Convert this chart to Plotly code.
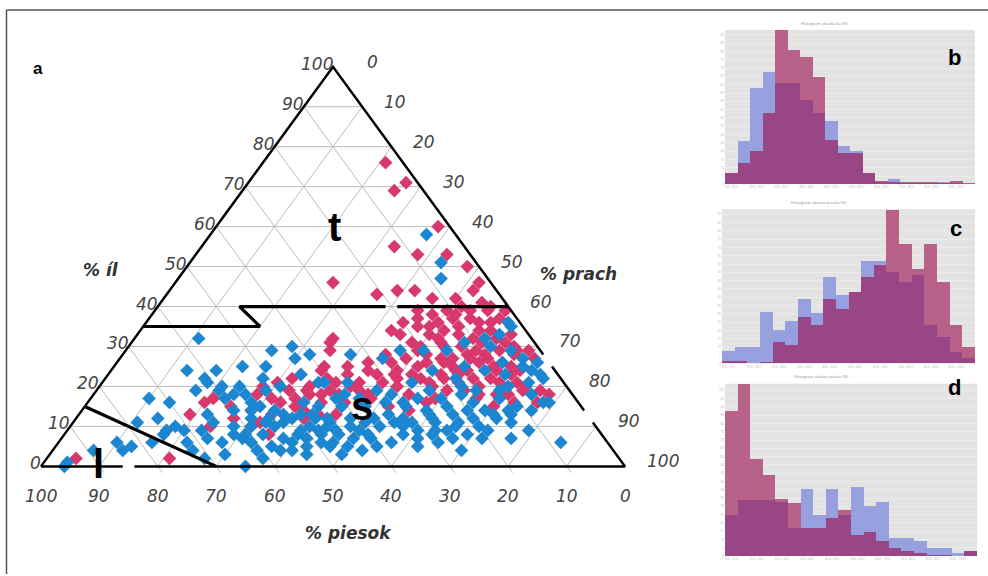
import plotly.graph_objects as go

# ---------------- data ----------------
# ternary samples: clay (íl) %, silt (prach) %; sand (piesok) = 100 - clay - silt
red_clay = [76, 71, 69, 60, 55, 53, 53, 50, 46, 43, 44, 44, 42, 42, 44, 46, 41, 39, 38, 39,
            39, 39, 37, 35, 34, 35, 34, 34, 33, 33, 31, 31, 30, 29, 29, 29, 29, 28, 27, 26,
            27, 27, 26, 24, 27, 32, 29, 25, 23, 26, 23, 22, 21, 23, 22, 21, 23, 20, 19, 18,
            19, 18, 19, 18, 19, 21, 19, 17, 16, 13, 10, 15, 22, 23, 20, 18, 24, 31, 2, 2,
            18, 17, 15, 16, 12, 11, 8, 10, 37, 32, 36, 27, 24, 23, 18, 16, 39, 29, 34, 18,
            17, 18, 16, 17,
            38, 37, 36, 36, 35, 33, 33, 32, 32, 31, 31, 30, 30, 30, 28, 28, 28, 28, 27, 26,
            26, 25, 25, 25, 25, 24, 24, 24, 22, 22, 22, 21, 21, 20, 20, 20, 19, 17, 17, 16,
            15, 40, 40, 37, 36, 21, 20, 22, 18, 16, 14, 20, 19, 21, 14, 12, 13, 13, 16, 15,
            14, 23, 26,
            24, 21, 19, 17, 25, 20, 23, 18, 16, 13]
red_silt = [21, 27, 26, 38, 33, 38, 43, 48, 27, 36, 39, 42, 46, 50, 52, 52, 55, 45, 48, 50,
            54, 57, 60, 49, 52, 54, 58, 60, 64, 45, 48, 53, 57, 60, 64, 67, 69, 45, 49, 53,
            55, 63, 66, 70, 71, 34, 35, 36, 41, 43, 46, 50, 56, 60, 63, 68, 69, 73, 76, 78,
            73, 69, 60, 37, 40, 44, 45, 21, 20, 19, 24, 25, 32, 33, 36, 39, 36, 34, 21, 5,
            28, 31, 36, 33, 39, 32, 35, 31, 52, 58, 59, 57, 61, 57, 71, 77, 60, 50, 43, 66,
            59, 54, 44, 48,
            52, 55, 57, 50, 47, 50, 55, 52, 62, 60, 64, 50, 54, 66, 52, 59, 62, 67, 60, 56,
            62, 52, 58, 65, 68, 49, 59, 66, 54, 58, 66, 61, 71, 57, 65, 69, 63, 66, 70, 73,
            70, 52, 57, 46, 44, 48, 43, 38, 42, 40, 38, 28, 33, 30, 29, 27, 33, 44, 47, 52,
            56, 52, 47,
            44, 40, 36, 35, 40, 51, 49, 47, 58, 41]

blue_clay = [58, 51, 47, 36, 32, 30, 29, 29, 27, 24, 29, 29, 27, 28, 28, 24, 25, 24, 23, 23,
             21, 21, 19, 18, 18, 21, 23, 19, 20, 19, 19, 18, 16, 14,
             15, 15, 15, 16, 15, 14, 15, 14, 14, 14, 15, 13, 10, 11, 12, 12, 11, 11, 11, 13,
             12, 13, 9, 6, 6, 7, 8, 5, 8, 7, 9, 7, 4, 9, 6, 13, 16,
             32, 24, 24, 22, 29, 30, 25, 22, 19, 21, 19, 17, 18, 18, 19, 20, 21, 14, 14, 15,
             14, 12, 13, 11, 9, 10, 9, 8, 6, 6, 4, 6, 5, 4, 4, 1, 0, 9, 11, 10, 8, 8, 8, 4,
             5, 7, 8, 5, 12, 0, 4, 2, 4,
             5, 9, 13, 17, 9, 8, 9, 7, 11, 9,
             12, 11, 10, 13, 12, 10, 9, 8, 7, 6, 10, 8, 7, 6, 10, 11, 12, 10, 9, 8,
             5, 6, 10, 12, 13, 11, 10, 12, 11, 7, 5, 3, 3, 4, 6, 7, 10, 12, 16, 17,
             17, 16, 17, 18, 16, 17, 20, 22, 25, 26, 26, 22, 31, 33, 35, 21, 16, 17, 20, 13,
             7, 6, 3, 2, 12, 16, 20, 25, 27]
blue_silt = [37, 43, 45, 62, 60, 62, 55, 66, 69, 72, 51, 47, 45, 39, 32, 55, 60, 64, 68, 74,
             73, 53, 48, 51, 43, 37, 33, 57, 62, 65, 69, 75, 79, 77,
             40, 44, 48, 51, 55, 59, 62, 66, 69, 73, 74, 38, 41, 44, 47, 51, 55, 58, 62, 64,
             68, 71, 79, 45, 47, 50, 52, 55, 58, 61, 65, 67, 70, 63, 86, 74, 78,
             11, 13, 18, 17, 25, 28, 26, 27, 17, 18, 21, 10, 24, 26, 29, 31, 38, 26, 29, 30,
             33, 37, 40, 11, 17, 18, 20, 17, 16, 22, 24, 10, 13, 12, 7, 4, 4, 23, 24, 28, 31, 29, 34, 35,
             37, 38, 40, 43, 43, 35, 41, 37, 39,
             50, 40, 53, 56, 50, 69, 72, 77, 36, 46,
             30, 33, 35, 35, 41, 44, 43, 44, 42, 40, 48, 47, 53, 57, 53, 50, 56, 57, 60, 63,
             62, 65, 66, 61, 60, 66, 70, 72, 75, 72, 47, 44, 50, 53, 33, 31, 31, 33, 37, 42,
             46, 54, 60, 63, 66, 70, 70, 75, 70, 66, 72, 60, 57, 62, 63, 42, 28, 23, 24, 22,
             25, 28, 30, 27, 14, 14, 21, 22, 30]

# texture class boundaries (clay %, silt %)
bound1_clay = [40, 40, None, 40, 40, 35, 35]
bound1_silt = [60, 41, None, 39, 14, 20, 0]
bound2_clay = [15, 0]
bound2_silt = [0, 30]

# triangle outline (clay %, silt %), with the small gaps seen in the figure
edge_clay = [0, 0, None, 0, 0, 11, None, 14, 25, None, 28, 100, 0]
edge_silt = [0, 14, None, 16, 100, 89, None, 86, 75, None, 72, 0, 0]

tick_values = [0, 10, 20, 30, 40, 50, 60, 70, 80, 90, 100]

# histograms (20 bins each), blue and red series
hist_bins = list(range(20))
hist_b_blue = [7, 26, 58, 68, 61, 61, 51, 43, 38, 23, 20, 7, 1.5, 3, 1, 1, 1, 1.5, 1, 0.5]
hist_b_red = [7, 13, 20, 43, 93, 81, 77, 65, 27, 19, 19, 7, 2, 1.5, 1.5, 1.5, 1.5, 1, 2, 1]
hist_c_blue = [7.4, 10, 10, 31, 20, 25.4, 38.6, 30.6, 52, 41, 43, 61.4, 61.4, 55, 49, 53, 23, 16, 7, 3]
hist_c_red = [1.4, 1.4, 0, 1, 13, 11, 28, 23, 38.6, 33, 43, 52, 59, 92.6, 72, 57, 72, 49, 23, 10]
hist_d_blue = [25, 34, 34, 34, 33, 17, 40.6, 25, 40.6, 25, 42, 30.6, 33, 11.4, 11.4, 9.4, 5, 5, 2, 3.4]
hist_d_red = [88, 104, 59, 49.4, 34.6, 32, 17, 17, 23, 28, 13, 15, 9.4, 5, 3.4, 2, 1, 0.6, 0.4, 3.4]

# ---------------- geometry ----------------
W, H = 988, 576
X0, XS = 41.0, 5.84    # pixel x of sand-100 vertex, pixels per percent along base
Y0, YS = 468.0, 4.01   # pixel y of base, pixels per percent of clay


def tx(clay, silt):
    return [None if c is None else s + c / 2.0 for c, s in zip(clay, silt)]


def ty(clay):
    return [None if c is None else c for c in clay]


fig = go.Figure()

# grid lines
gx, gy = [], []
for k in tick_values[1:-1]:
    gx += tx([k, k], [0, 100 - k]) + [None]; gy += [k, k, None]
    gx += tx([0, 100 - k], [100 - k, 0]) + [None]; gy += [0, 100 - k, None]
    gx += tx([0, 100 - k], [k, k]) + [None]; gy += [0, 100 - k, None]
for k in tick_values[1:-1]:
    gx += tx([0, -1.6], [100 - k, 100 - k + 1.6]) + [None]; gy += [0, -1.6, None]
fig.add_trace(go.Scatter(x=gx, y=gy, mode="lines", line=dict(color="#bcbcbc", width=1),
                         hoverinfo="skip", xaxis="x", yaxis="y"))

# points
fig.add_trace(go.Scatter(x=tx(red_clay, red_silt), y=ty(red_clay), mode="markers",
                         marker=dict(symbol="diamond", size=10.5, color="#d9386c"),
                         xaxis="x", yaxis="y"))
fig.add_trace(go.Scatter(x=tx(blue_clay, blue_silt), y=ty(blue_clay), mode="markers",
                         marker=dict(symbol="diamond", size=10.5, color="#1c87d0"),
                         xaxis="x", yaxis="y"))

# outline and class boundaries
fig.add_trace(go.Scatter(x=tx(edge_clay, edge_silt), y=ty(edge_clay), mode="lines",
                         line=dict(color="black", width=2.5), hoverinfo="skip"))
for bc, bs in [(bound1_clay, bound1_silt), (bound2_clay, bound2_silt)]:
    fig.add_trace(go.Scatter(x=tx(bc, bs), y=ty(bc), mode="lines",
                             line=dict(color="black", width=3.2), hoverinfo="skip"))

# histograms
blue_col = "rgba(110,124,218,0.66)"
red_col = "rgba(155,10,75,0.6)"
panels = [
    ("2", hist_b_blue, hist_b_red, [725, 975], [30, 185], 93, "Histogram obsahu ílu (%)"),
    ("3", hist_c_blue, hist_c_red, [722, 975], [210, 365], 93, "Histogram obsahu prachu (%)"),
    ("4", hist_d_blue, hist_d_red, [725, 977], [385, 558], 104, "Histogram obsahu piesku (%)"),
]
shapes = []
annotations = []
layout_axes = {}
for sid, hb, hr, xs, ys, ymax, ttl in panels:
    fig.add_trace(go.Bar(x=hist_bins, y=hb, width=1, marker=dict(color=blue_col, line=dict(width=0)),
                         xaxis="x" + sid, yaxis="y" + sid))
    fig.add_trace(go.Bar(x=hist_bins, y=hr, width=1, marker=dict(color=red_col, line=dict(width=0)),
                         xaxis="x" + sid, yaxis="y" + sid))
    xd = [xs[0] / W, xs[1] / W]
    yd = [(H - ys[1]) / H, (H - ys[0]) / H]
    layout_axes["xaxis" + sid] = dict(domain=xd, anchor="y" + sid, range=[-0.5, 19.5],
                                      showgrid=False, zeroline=False, showline=False,
                                      tickvals=hist_bins[::2],
                                      ticktext=[f"{b*5}.0 - {b*5+10}.0" for b in hist_bins[::2]],
                                      tickfont=dict(size=3, color="#b0b0b0"), ticks="")
    layout_axes["yaxis" + sid] = dict(domain=yd, anchor="x" + sid, range=[0, ymax],
                                      showgrid=True, gridcolor="#ebebeb", gridwidth=1, dtick=5,
                                      zeroline=False, showline=False,
                                      tickfont=dict(size=3, color="#b0b0b0"), ticks="")
    shapes.append(dict(type="rect", xref="paper", yref="paper", x0=xd[0], x1=xd[1], y0=yd[0], y1=yd[1],
                       fillcolor="#e3e3e3", line=dict(width=0), layer="below"))
    annotations.append(dict(xref="paper", yref="paper", x=(xd[0] + xd[1]) / 2, y=yd[1] + 0.004,
                            yanchor="bottom", text=ttl, showarrow=False,
                            font=dict(size=4, color="#888888")))

# frame
shapes.append(dict(type="line", xref="paper", yref="paper", x0=6.5 / W, x1=1, y0=(H - 10) / H, y1=(H - 10) / H,
                   line=dict(color="#555555", width=1.5)))
shapes.append(dict(type="line", xref="paper", yref="paper", x0=6.5 / W, x1=6.5 / W, y0=0, y1=(H - 10) / H,
                   line=dict(color="#555555", width=1.5)))

num_font = dict(family="DejaVu Sans", size=17, color="#444444", style="italic")
title_font = dict(family="DejaVu Sans", size=17, color="#333333", style="italic", weight="bold")
letter_font = dict(family="Liberation Sans, Arial", size=40, color="black", weight="bold")

for k in tick_values:
    annotations.append(dict(x=k / 2.0, y=k, text=str(k), xanchor="right", yanchor="middle",
                            xshift=2, yshift=3, showarrow=False, font=num_font))
    annotations.append(dict(x=50 + k / 2.0, y=100 - k, text=str(k), xanchor="left", yanchor="middle",
                            xshift=32 if k == 0 else 20, yshift=5, showarrow=False, font=num_font))
    annotations.append(dict(x=100 - k, y=0, text=str(k), xanchor="center", yanchor="middle",
                            yshift=-30, showarrow=False, font=num_font))

annotations += [
    dict(x=10.3, y=49.1, text="% íl", showarrow=False, font=title_font),
    dict(x=92.0, y=48.1, text="% prach", showarrow=False, font=title_font),
    dict(x=52.6, y=-16.7, text="% piesok", showarrow=False, font=title_font),
    dict(x=50.3, y=59.9, text="t", showarrow=False, font=letter_font),
    dict(x=54.9, y=15.2, text="s", showarrow=False, font=letter_font),
    dict(x=9.8, y=0.5, text="l", showarrow=False, font=letter_font),
    dict(xref="paper", yref="paper", x=31 / W, y=(H - 57) / H, text="a", showarrow=False,
         font=dict(family="Liberation Sans, Arial", size=17, color="black", weight="bold")),
    dict(xref="paper", yref="paper", x=963 / W, y=(H - 43) / H, text="b", showarrow=False,
         font=dict(family="Liberation Sans, Arial", size=22, color="black", weight="bold")),
    dict(xref="paper", yref="paper", x=964 / W, y=(H - 229) / H, text="c", showarrow=False,
         font=dict(family="Liberation Sans, Arial", size=22, color="black", weight="bold")),
    dict(xref="paper", yref="paper", x=963 / W, y=(H - 403) / H, text="d", showarrow=False,
         font=dict(family="Liberation Sans, Arial", size=22, color="black", weight="bold")),
]

fig.update_layout(
    width=W, height=H, margin=dict(l=0, r=0, t=0, b=0), autosize=False,
    paper_bgcolor="white", plot_bgcolor="rgba(0,0,0,0)",
    showlegend=False, barmode="overlay", bargap=0,
    xaxis=dict(domain=[0, 1], range=[-X0 / XS, (W - X0) / XS], visible=False, fixedrange=True),
    yaxis=dict(domain=[0, 1], range=[(Y0 - H) / YS, Y0 / YS], visible=False, fixedrange=True),
    shapes=shapes, annotations=annotations,
    **layout_axes,
)

fig.write_html("out.html")
